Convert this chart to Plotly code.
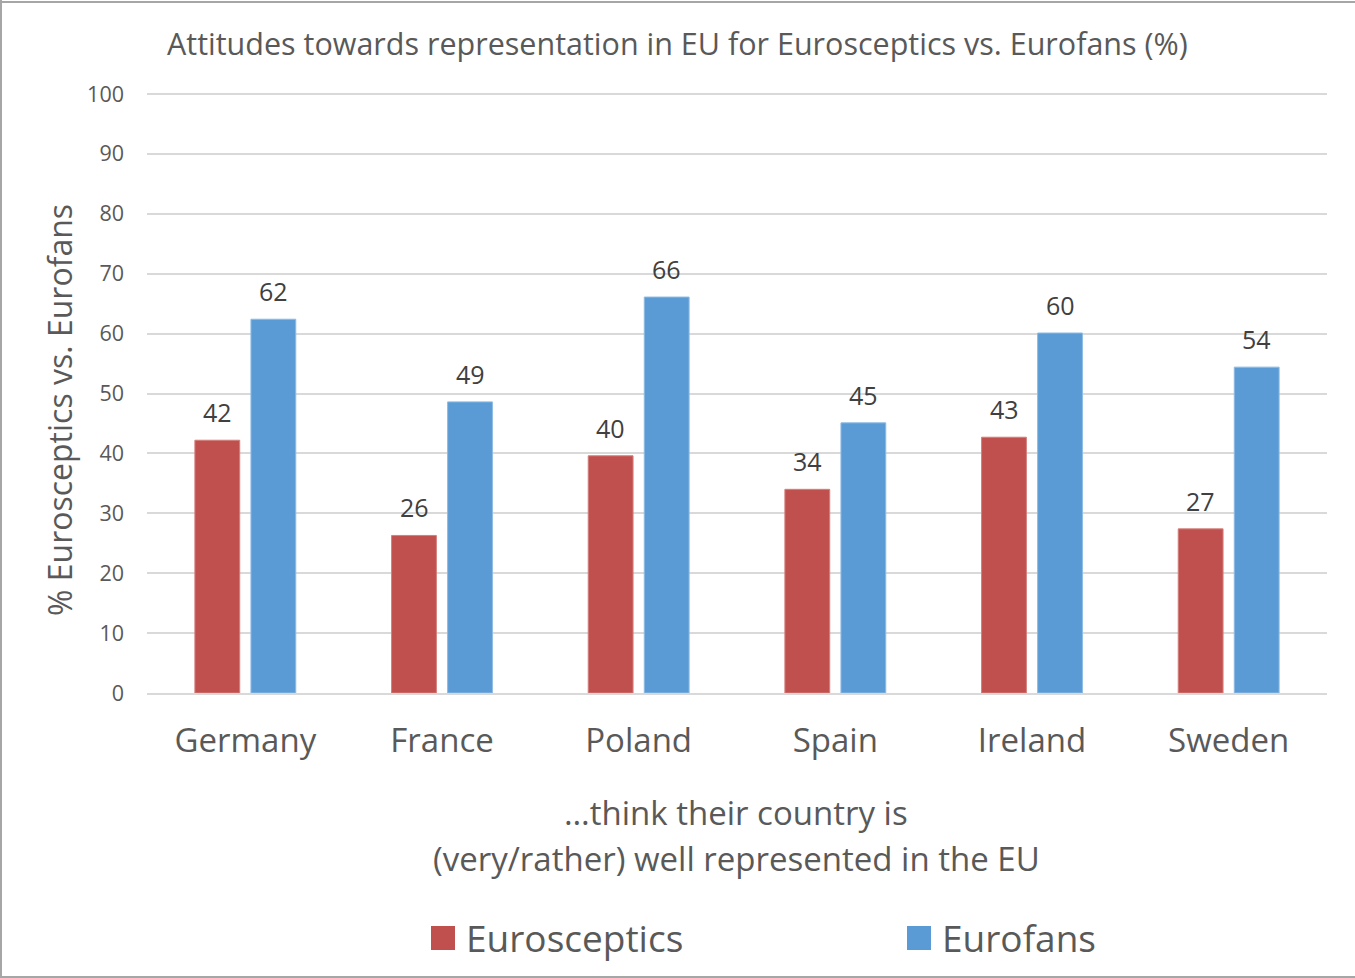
import plotly.graph_objects as go

countries = ["Germany", "France", "Poland", "Spain", "Ireland", "Sweden"]
eurosceptics = [42.2, 26.3, 39.6, 34.0, 42.7, 27.4]
eurofans = [62.4, 48.6, 66.1, 45.1, 60.1, 54.4]
y_ticks = [0, 10, 20, 30, 40, 50, 60, 70, 80, 90, 100]

RED = "#C0504D"
BLUE = "#5B9BD5"
TXT = "#595959"
LBL = "#404040"
FONT = "Open Sans"

W, H = 1355, 978
YMAX = 100.5
L, R, T, B = 147, 1355 - 1327, 94 - 3, 978 - 693
pw, ph = W - L - R, H - T - B


def px(x):
    return (x - L) / pw


def py(y):
    return (H - B - y) / ph


fig = go.Figure()
fig.add_trace(go.Bar(
    x=countries, y=eurosceptics, name="Eurosceptics",
    marker=dict(color=RED, line=dict(color="#D47F7C", width=1)),
    showlegend=False, hoverinfo="x+y",
))
fig.add_trace(go.Bar(
    x=countries, y=eurofans, name="Eurofans",
    marker=dict(color=BLUE, line=dict(color="#8DBBE3", width=1)),
    showlegend=False, hoverinfo="x+y",
))

annotations = []
for series, shift in ((eurosceptics, -28), (eurofans, 28)):
    for c, v in zip(countries, series):
        annotations.append(dict(
            x=c, y=v, xref="x", yref="y", text=f"{round(v):d}", showarrow=False,
            xshift=shift, yshift=28, xanchor="center", yanchor="middle",
            font=dict(size=25, color=LBL, family=FONT),
        ))

annotations += [
    dict(text="Attitudes towards representation in EU for Eurosceptics vs. Eurofans (%)",
         x=px(677), y=py(43), xref="paper", yref="paper", showarrow=False,
         font=dict(size=30.5, color=TXT, family=FONT), xanchor="center", yanchor="middle"),
    dict(text="% Eurosceptics vs. Eurofans", textangle=-90,
         x=px(59), y=py(410), xref="paper", yref="paper", showarrow=False,
         font=dict(size=32, color=TXT, family=FONT), xanchor="center", yanchor="middle"),
    dict(text="…think their country is",
         x=px(736), y=py(812), xref="paper", yref="paper", showarrow=False,
         font=dict(size=33, color=TXT, family=FONT), xanchor="center", yanchor="middle"),
    dict(text="(very/rather) well represented in the EU",
         x=px(736), y=py(858), xref="paper", yref="paper", showarrow=False,
         font=dict(size=33, color=TXT, family=FONT), xanchor="center", yanchor="middle"),
    dict(text="Eurosceptics", x=px(464), y=py(937), xref="paper", yref="paper",
         showarrow=False, font=dict(size=37, color=TXT, family=FONT),
         xanchor="left", yanchor="middle"),
    dict(text="Eurofans", x=px(940), y=py(937), xref="paper", yref="paper",
         showarrow=False, font=dict(size=37, color=TXT, family=FONT),
         xanchor="left", yanchor="middle"),
]

shapes = [
    dict(type="rect", xref="paper", yref="paper", x0=px(431), x1=px(455),
         y0=py(926), y1=py(950), fillcolor=RED, line=dict(width=0)),
    dict(type="rect", xref="paper", yref="paper", x0=px(907), x1=px(931),
         y0=py(926), y1=py(950), fillcolor=BLUE, line=dict(width=0)),
    # outer frame (top, left, bottom)
    dict(type="line", xref="paper", yref="paper", x0=px(0), x1=px(W),
         y0=py(2), y1=py(2), line=dict(color="#A6A6A6", width=2)),
    dict(type="line", xref="paper", yref="paper", x0=px(1), x1=px(1),
         y0=py(0), y1=py(H), line=dict(color="#A6A6A6", width=2)),
    dict(type="line", xref="paper", yref="paper", x0=px(0), x1=px(W),
         y0=py(977), y1=py(977), line=dict(color="#A6A6A6", width=2)),
]

fig.update_layout(
    width=W, height=H,
    margin=dict(l=L, r=R, t=T, b=B),
    paper_bgcolor="white", plot_bgcolor="white",
    barmode="group", bargap=0.43, bargroupgap=0.2,
    font=dict(family=FONT, color=TXT),
    annotations=annotations, shapes=shapes,
    showlegend=False,
)
fig.update_xaxes(
    showgrid=False, showline=True, linecolor="#D9D9D9", linewidth=1.5,
    tickfont=dict(size=33, color=TXT, family=FONT), ticks="",
    ticklabelstandoff=18,
)
fig.update_yaxes(
    range=[0, YMAX], tickvals=y_ticks, showgrid=True, gridcolor="#D9D9D9",
    gridwidth=1.5, zeroline=False, showline=False, ticks="",
    tickfont=dict(size=21.5, color=TXT, family=FONT), ticklabelstandoff=22,
)

fig.write_html(
    "out.html",
    config={"displayModeBar": False},
    post_script="document.body.style.margin='0px';document.body.style.overflow='hidden';",
)
